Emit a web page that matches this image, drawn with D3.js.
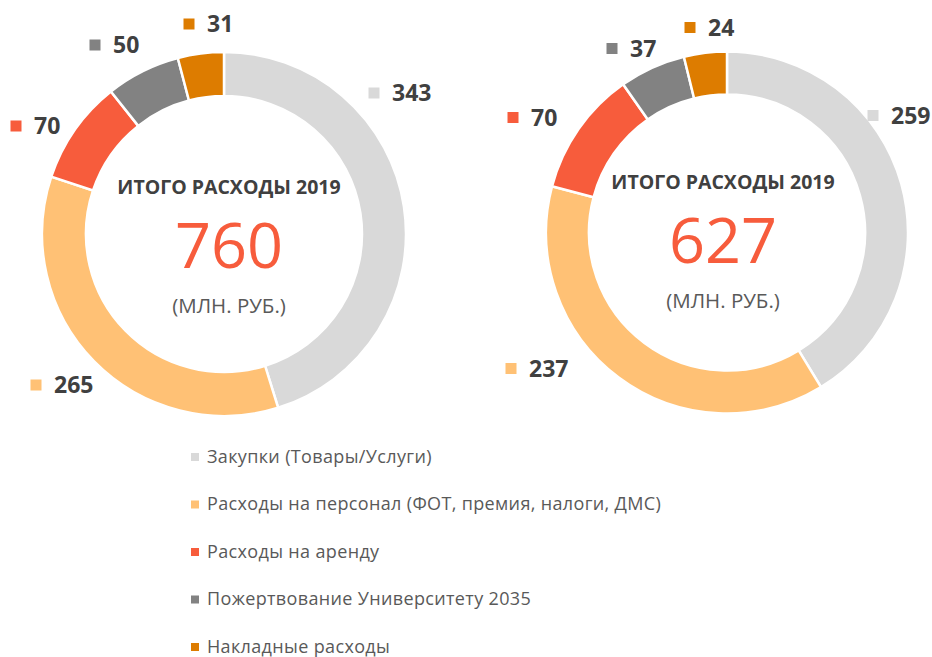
<!DOCTYPE html>
<html>
<head>
<meta charset="utf-8">
<script src="https://cdn.jsdelivr.net/npm/d3@7"></script>
<style>
  body { margin: 0; background: #fff; }
  svg { display: block; font-family: 'Open Sans', sans-serif; }
</style>
</head>
<body>
<div id="chart"></div>
<script>
// categories (legend order = slice order, clockwise from 12 o'clock)
const categories = [
    'Закупки (Товары/Услуги)',
    'Расходы на персонал (ФОТ, премия, налоги, ДМС)',
    'Расходы на аренду',
    'Пожертвование Университету 2035',
    'Накладные расходы'
];
const valuesLeft = [343, 265, 70, 50, 31];
const valuesRight = [259, 237, 70, 37, 24];
const totals = [760, 627];
const titles = ['ИТОГО РАСХОДЫ 2019', 'ИТОГО РАСХОДЫ 2019'];
const unitText = '(МЛН. РУБ.)';

const colors = ['#d9d9d9', '#ffc175', '#f75c3c', '#828282', '#dd7c00'];

// where the data labels sit, as offsets from the donut centre (set by hand in the original)
const labelOffsetsLeft = [[150, -141], [-188, 151], [-208, -108], [-129, -189], [-35, -210]];
const labelOffsetsRight = [[146, -117], [-216, 136], [-214, -115], [-115, -184], [-37, -205]];

const width = 932, height = 657;

const svg = d3.select('#chart')
    .append('svg')
    .attr('width', width)
    .attr('height', height);

class Donut {

    constructor(_config, _data, _total, _title, _offsets) {
        this.config = {
            cx: _config.cx,
            cy: _config.cy,
            outer: _config.outer,
            inner: _config.inner,
            textDx: _config.textDx || 0,
            textDy: _config.textDy || 0
        }
        this.data = _data;
        this.total = _total;
        this.title = _title;
        this.offsets = _offsets;
        this.initVis();
    }

    initVis() {
        let vis = this;
        vis.g = svg.append('g')
            .attr('transform', `translate(${vis.config.cx},${vis.config.cy})`);
        vis.pie = d3.pie()
            .sort(null)
            .value((d) => d.value);
        vis.arc = d3.arc()
            .innerRadius(vis.config.inner)
            .outerRadius(vis.config.outer);
        vis.renderVis();
    }

    renderVis() {
        let vis = this;
        let rows = vis.data.map((v, i) => ({value: v, i: i}));
        vis.g.selectAll('.slice')
            .data(vis.pie(rows))
            .join('path')
            .attr('class', 'slice')
            .attr('d', vis.arc)
            .attr('fill', (d) => colors[d.data.i])
            .attr('stroke', '#fff')
            .attr('stroke-width', 2.5)
            .attr('stroke-linejoin', 'miter');

        // data labels: legend key + value
        let lab = vis.g.selectAll('.dlabel')
            .data(rows)
            .join('g')
            .attr('class', 'dlabel')
            .attr('transform', (d) => `translate(${vis.offsets[d.i][0]},${vis.offsets[d.i][1]})`);
        lab.append('rect')
            .attr('x', -5.5)
            .attr('y', -5.5)
            .attr('width', 11)
            .attr('height', 11)
            .attr('fill', (d) => colors[d.i]);
        lab.append('text')
            .attr('x', 18)
            .attr('y', 8)
            .text((d) => d.value)
            .style('font-size', '23px')
            .style('font-weight', 700)
            .style('fill', '#404040');

        // centre text
        let tx = vis.config.textDx, ty = vis.config.textDy;
        vis.g.append('text')
            .attr('x', tx)
            .attr('y', ty - 41)
            .text(vis.title)
            .style('font-size', '19.5px')
            .style('font-weight', 700)
            .style('fill', '#404040')
            .style('text-anchor', 'middle');
        vis.g.append('text')
            .attr('x', tx)
            .attr('y', ty + 33)
            .text(vis.total)
            .style('font-size', '63px')
            .style('fill', '#f75c3c')
            .style('text-anchor', 'middle');
        vis.g.append('text')
            .attr('x', tx)
            .attr('y', ty + 78)
            .text(unitText)
            .style('font-size', '20.5px')
            .style('fill', '#595959')
            .style('text-anchor', 'middle');
    }
}

new Donut({cx: 224, cy: 234, outer: 182, inner: 138, textDx: 5, textDy: 1}, valuesLeft, totals[0], titles[0], labelOffsetsLeft);
new Donut({cx: 727, cy: 232.5, outer: 181, inner: 138, textDx: -4, textDy: -3}, valuesRight, totals[1], titles[1], labelOffsetsRight);

// legend
const legendY = d3.scalePoint()
    .domain(categories)
    .range([457, 647]);
const legend = svg.selectAll('.legend-item')
    .data(categories)
    .join('g')
    .attr('class', 'legend-item')
    .attr('transform', (d) => `translate(191,${legendY(d)})`);
legend.append('rect')
    .attr('x', 0)
    .attr('y', -4)
    .attr('width', 8)
    .attr('height', 8)
    .attr('fill', (d, i) => colors[i]);
legend.append('text')
    .attr('x', 16)
    .attr('y', 5.5)
    .text((d) => d)
    .style('font-size', '18px')
    .style('letter-spacing', '0.35px')
    .style('fill', '#595959');
</script>
</body>
</html>
